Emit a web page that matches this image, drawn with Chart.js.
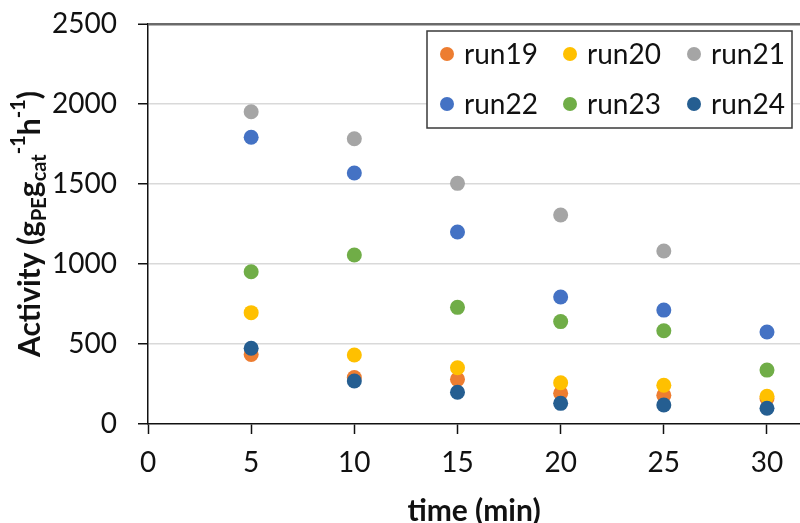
<!DOCTYPE html>
<html>
<head>
<meta charset="utf-8">
<script src="https://cdn.jsdelivr.net/npm/chart.js@4"></script>
<style>
  html, body { margin: 0; padding: 0; background: #fff; }
  #wrap { width: 800px; height: 523px; }
</style>
</head>
<body>
<div id="wrap"><canvas id="c" width="800" height="523"></canvas></div>
<script>
// ---- data ----
const times = [5, 10, 15, 20, 25, 30];
const seriesNames = ['run19', 'run20', 'run21', 'run22', 'run23', 'run24'];
const run19 = [435, 290, 279, 192, 179, 160];
const run20 = [696, 431, 352, 258, 242, 173];
const run21 = [1952, 1783, 1504, 1306, 1081, null];
const run22 = [1792, 1569, 1200, 794, 712, 575];
const run23 = [952, 1056, 729, 640, 583, 337];
const run24 = [473, 269, 198, 129, 119, 98];
const yTicks = [0, 500, 1000, 1500, 2000, 2500];
const xTicks = [0, 5, 10, 15, 20, 25, 30];

const seriesValues = [run19, run20, run21, run22, run23, run24];
const colors = ['#ED7D31', '#FFC000', '#A5A5A5', '#4472C4', '#70AD47', '#255E91'];

const datasets = seriesNames.map((name, i) => ({
  label: name,
  data: times.map((t, j) => ({ x: t, y: seriesValues[i][j] })).filter(p => p.y !== null),
  backgroundColor: colors[i],
  borderWidth: 0,
  pointRadius: 7.5,
  pointHoverRadius: 7.5,
  order: seriesNames.length - i
}));

const FONT = 'Lato, "Open Sans", sans-serif';

// custom legend (boxed, 3 columns x 2 rows)
const legendPlugin = {
  id: 'boxLegend',
  afterDatasetsDraw(chart) {
    const ctx = chart.ctx;
    const bx = 427, by = 31, bw = 365, bh = 97;
    ctx.save();
    ctx.fillStyle = '#fff';
    ctx.fillRect(bx, by, bw, bh);
    ctx.strokeStyle = '#3a3a3a';
    ctx.lineWidth = 1.5;
    ctx.strokeRect(bx, by, bw, bh);
    const colX = [447, 570, 694];
    const rowY = [54, 104];
    ctx.font = '28px ' + FONT;
    ctx.textBaseline = 'middle';
    ctx.textAlign = 'left';
    seriesNames.forEach((name, i) => {
      const cx = colX[i % 3], cy = rowY[Math.floor(i / 3)];
      ctx.fillStyle = colors[i];
      ctx.beginPath();
      ctx.arc(cx, cy, 7, 0, Math.PI * 2);
      ctx.fill();
      ctx.fillStyle = '#111';
      ctx.fillText(name, cx + 17, cy + 1);
    });
    ctx.restore();
  }
};

// y-axis title with subscripts / superscripts
const yTitlePlugin = {
  id: 'yTitle',
  afterDraw(chart) {
    const ctx = chart.ctx;
    const segs = [
      { t: 'Activity (g', s: 0 },
      { t: 'PE', s: 1 },
      { t: 'g', s: 0 },
      { t: 'cat', s: 1 },
      { t: '-1', s: 2 },
      { t: 'h', s: 0 },
      { t: '-1', s: 2 },
      { t: ')', s: 0 }
    ];
    const big = 'bold 30px ' + FONT, small = 'bold 20px ' + FONT;
    ctx.save();
    let total = 0;
    segs.forEach(sg => { ctx.font = sg.s ? small : big; sg.w = ctx.measureText(sg.t).width; total += sg.w; });
    const area = chart.chartArea;
    ctx.translate(30, (area.top + area.bottom) / 2);
    ctx.rotate(-Math.PI / 2);
    ctx.fillStyle = '#111';
    ctx.textBaseline = 'alphabetic';
    ctx.textAlign = 'left';
    let x = -total / 2;
    segs.forEach(sg => {
      ctx.font = sg.s ? small : big;
      const dy = sg.s === 1 ? 16 : (sg.s === 2 ? -5 : 10);
      ctx.fillText(sg.t, x, dy);
      x += sg.w;
    });
    ctx.restore();
  }
};

new Chart(document.getElementById('c'), {
  type: 'scatter',
  data: { datasets },
  plugins: [legendPlugin, yTitlePlugin],
  options: {
    responsive: false,
    animation: false,
    events: [],
    layout: { autoPadding: false, padding: { top: 24, right: 0, left: 0, bottom: 0 } },
    plugins: { legend: { display: false }, tooltip: { enabled: false } },
    scales: {
      x: {
        type: 'linear',
        min: 0,
        max: 31.6,
        afterBuildTicks: s => { s.ticks = xTicks.map(v => ({ value: v })); },
        afterFit: s => { s.height = 99; s.paddingLeft = 0; s.paddingRight = 0; },
        border: { display: true, color: '#111', width: 1.5 },
        grid: { drawOnChartArea: false, drawTicks: true, tickLength: 10, tickColor: '#111', tickWidth: 1.5 },
        ticks: { font: { family: FONT, size: 28 }, color: '#111', padding: 12, maxRotation: 0, callback: v => String(v) },
        title: { display: true, text: 'time (min)', font: { family: FONT, size: 30, weight: 'bold', lineHeight: 0.8 }, color: '#111', padding: { top: 0, bottom: 0 } }
      },
      y: {
        type: 'linear',
        min: 0,
        max: 2500,
        afterBuildTicks: s => { s.ticks = yTicks.map(v => ({ value: v })); },
        afterFit: s => { s.width = 148; s.paddingTop = 0; s.paddingBottom = 0; },
        border: { display: true, color: '#111', width: 1.5 },
        grid: {
          color: c => c.tick && c.tick.value === 2500 ? '#6a6a6a' : (c.tick && c.tick.value === 0 ? 'rgba(0,0,0,0)' : '#d9d9d9'),
          lineWidth: c => c.tick && c.tick.value === 2500 ? 2.5 : 1.5,
          drawTicks: true, tickLength: 10, tickColor: '#111', tickWidth: 1.5
        },
        ticks: { font: { family: FONT, size: 28 }, color: '#111', padding: 21, callback: v => String(v) }
      }
    }
  }
});
</script>
</body>
</html>
